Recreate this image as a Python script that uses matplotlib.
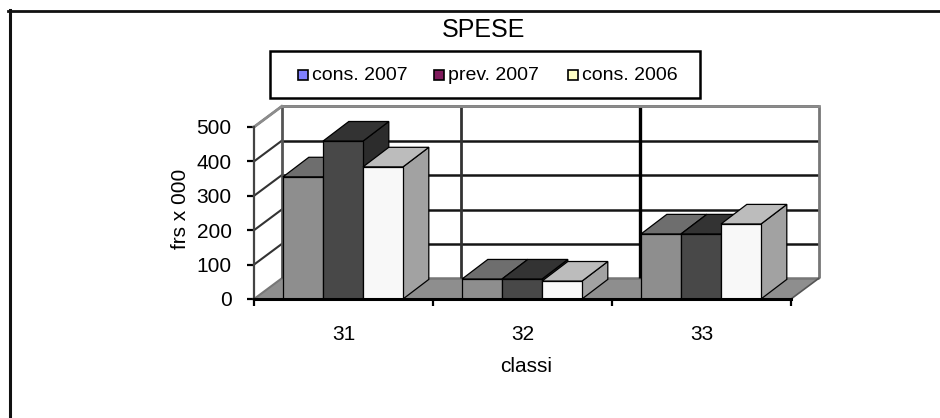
import numpy as np
import matplotlib
matplotlib.use('Agg')
import matplotlib.pyplot as plt
from matplotlib.lines import Line2D
from matplotlib.patches import Polygon, Rectangle

categories = ['31', '32', '33']
series_names = ['cons. 2007', 'prev. 2007', 'cons. 2006']
cons_2007 = [355, 58, 189]
prev_2007 = [459, 58, 189]
cons_2006 = [384, 52, 218]
y_ticks = [0, 100, 200, 300, 400, 500]

W, H = 940, 418
# axis box in pixels
X0, X1, Y0, Y1 = 254, 791, 299, 127
DX, DY = 0.155, 60  # depth of the 3d box, in data units

front_cols = ['#8e8e8e', '#484848', '#f8f8f8']
top_cols = ['#6e6e6e', '#333333', '#bcbcbc']
side_cols = ['#6e6e6e', '#2c2c2c', '#a2a2a2']
legend_cols = ['#8080ff', '#7f1a5c', '#ffffc4']
grid_w = [2.0, 2.0, 2.4, 2.0, 1.8]


def bar3d(ax, x, w, h, i, z):
    ax.add_patch(Polygon([(x + w, 0), (x + w + DX * 0.93, DY * 0.95), (x + w + DX * 0.93, h + DY * 0.95), (x + w, h)],
                         fc=side_cols[i], ec='black', lw=0.9, zorder=z, clip_on=False))
    ax.add_patch(Polygon([(x, h), (x + DX * 0.93, h + DY * 0.95), (x + w + DX * 0.93, h + DY * 0.95), (x + w, h)],
                         fc=top_cols[i], ec='black', lw=0.9, zorder=z, clip_on=False))
    ax.add_patch(Rectangle((x, 0), w, h, fc=front_cols[i], ec='black', lw=0.9, zorder=z + 0.5, clip_on=False))


def main():
    fig = plt.figure(figsize=(W / 100, H / 100), dpi=100)
    plt.rcParams['font.family'] = ['Liberation Sans', 'DejaVu Sans']

    # outer frame, only left and top are inside the picture
    fig.add_artist(Line2D([9.5 / W, 9.5 / W], [0, 1 - 10 / H], color='#111111', lw=2.2, zorder=-5))
    fig.add_artist(Line2D([8 / W, 1], [1 - 11 / H, 1 - 11 / H], color='#111111', lw=2.0, zorder=-5))

    ax = fig.add_axes([X0 / W, 1 - Y0 / H, (X1 - X0) / W, (Y0 - Y1) / H])
    ax.set_xlim(0, 3)
    ax.set_ylim(0, 500)
    ax.patch.set_alpha(0)
    for s in ['top', 'right']:
        ax.spines[s].set_visible(False)
    ax.spines['bottom'].set_linewidth(2.2)
    ax.spines['left'].set_linewidth(1.6)
    ax.spines['left'].set_color('#444444')
    ax.spines['bottom'].set_zorder(20)

    # floor
    ax.add_patch(Polygon([(0, 0), (DX, DY), (3 + DX, DY), (3, 0)], fc='#8e8e8e', ec='none', zorder=1, clip_on=False))

    # back wall grid
    for v in y_ticks:
        ax.plot([DX, 3 + DX], [v + DY, v + DY], color='#151515' if v else '#777777', lw=1.8, zorder=2, clip_on=False,
                solid_capstyle='butt')
        ax.plot([0, DX], [v, v + DY], color='#333333' if v else '#777777', lw=1.5, zorder=2, clip_on=False)
    for i, c in enumerate(range(4)):
        col = ['#555555', '#333333', '#000000', '#777777'][i]
        ax.plot([c + DX, c + DX], [DY, 500 + DY], color=col, lw=grid_w[i], zorder=2, clip_on=False,
                solid_capstyle='butt')
    ax.plot([DX, 3 + DX], [500 + DY, 500 + DY], color='#8c8c8c', lw=2, zorder=2, clip_on=False)
    ax.plot([0, DX], [500, 500 + DY], color='#8c8c8c', lw=2, zorder=2, clip_on=False)
    ax.plot([3, 3 + DX], [0, DY], color='#555555', lw=1.2, zorder=2, clip_on=False)

    # bars, back to front left to right
    w = 40 / 179
    start = 29 / 179
    series = [cons_2007, prev_2007, cons_2006]
    for c in range(3):
        for i, vals in enumerate(series):
            bar3d(ax, c + start + i * w, w, vals[c], i, 5 + c * 3 + i)

    ax.set_xticks(range(4))
    ax.set_xticklabels([])
    ax.set_xticks(np.arange(3) + 0.5, categories, minor=True)
    ax.tick_params(axis='x', which='major', length=5, width=1.6, direction='out')
    ax.tick_params(axis='x', which='minor', length=0, pad=19, labelsize=15)
    ax.set_yticks(y_ticks)
    ax.tick_params(axis='y', length=5, width=1.6, labelsize=15, pad=11)

    ax.set_xlabel('classi', fontsize=15, va='center')
    ax.xaxis.set_label_coords((526 - X0) / (X1 - X0), (Y0 - 366) / (Y0 - Y1))
    ax.set_ylabel('frs x 000', fontsize=15, va='center')
    ax.yaxis.set_label_coords((180 - X0) / (X1 - X0), (Y0 - 209) / (Y0 - Y1))

    fig.text(484 / W, 1 - 30 / H, 'SPESE', ha='center', va='center', fontsize=18)

    # legend box
    fig.add_artist(Rectangle((269.5 / W, 1 - 97.5 / H), 430 / W, 46 / H, transform=fig.transFigure,
                             fc='white', ec='black', lw=1.8))
    for name, col, sx in zip(series_names, legend_cols, [298, 434, 568]):
        fig.add_artist(Rectangle((sx / W, 1 - 80 / H), 10 / W, 10 / H, transform=fig.transFigure,
                                 fc=col, ec='black', lw=1.2))
        fig.text((sx + 14) / W, 1 - 75 / H, name, ha='left', va='center', fontsize=14)

    fig.savefig('out.png', dpi=100)


if __name__ == '__main__':
    main()
